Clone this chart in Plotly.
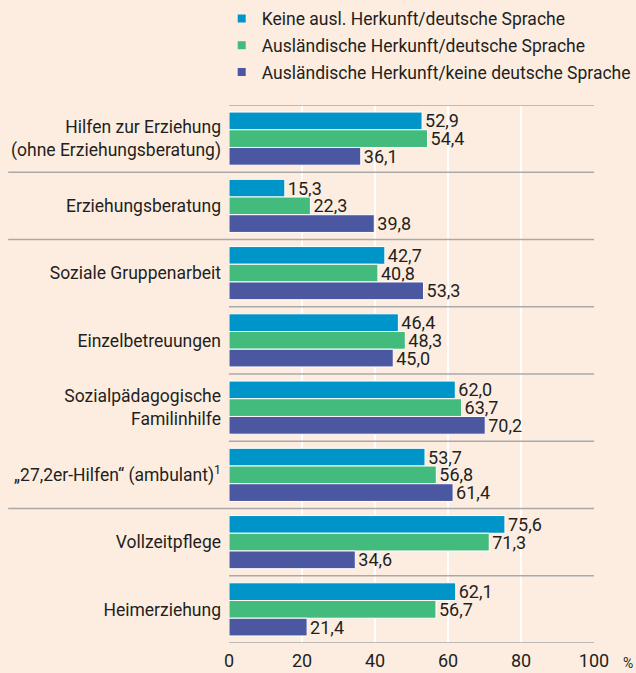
import plotly.graph_objects as go

categories = [
    "Hilfen zur Erziehung<br>(ohne Erziehungsberatung)",
    "Erziehungsberatung",
    "Soziale Gruppenarbeit",
    "Einzelbetreuungen",
    "Sozialpädagogische<br>Familinhilfe",
    "„27,2er-Hilfen“ (ambulant)<sup>1</sup>",
    "Vollzeitpflege",
    "Heimerziehung",
]
series_names = [
    "Keine ausl. Herkunft/deutsche Sprache",
    "Ausländische Herkunft/deutsche Sprache",
    "Ausländische Herkunft/keine deutsche Sprache",
]
keine_ausl = [52.9, 15.3, 42.7, 46.4, 62.0, 53.7, 75.6, 62.1]
ausl_deutsch = [54.4, 22.3, 40.8, 48.3, 63.7, 56.8, 71.3, 56.7]
ausl_keine_deutsch = [36.1, 39.8, 53.3, 45.0, 70.2, 61.4, 34.6, 21.4]
x_ticks = [0, 20, 40, 60, 80, 100]
long_separators = [0.5, 1.5, 5.5]
short_separators = [-0.5, 2.5, 3.5, 4.5, 6.5, 7.5]

colors = ["#0095C8", "#43BB7D", "#4B57A0"]
series = [keine_ausl, ausl_deutsch, ausl_keine_deutsch]
FONT = "Roboto, sans-serif"
TXT = "#231F20"
BG = "#FDEDE0"

fig = go.Figure()
for name, vals, col in zip(series_names, series, colors):
    fig.add_trace(go.Bar(
        y=categories, x=vals, orientation="h", name=name,
        marker=dict(color=col, line=dict(color="white", width=1)),
        text=vals, texttemplate="%{x:.1f}", textposition="outside",
        constraintext="none",
        textfont=dict(family=FONT, size=18, color=TXT),
        cliponaxis=False, showlegend=False,
    ))
for i, (name, col) in enumerate(zip(series_names, colors)):
    fig.add_trace(go.Scatter(
        x=[None], y=[None], mode="markers", name=name, legendgroup=f"g{i}",
        marker=dict(symbol="square", size=8, color=col),
    ))

shapes = []
for s in long_separators:
    shapes.append(dict(type="line", xref="paper", yref="y", x0=-0.605, x1=1, y0=s, y1=s,
                       line=dict(color="#A9A9AA", width=1.5), layer="above"))
for s in short_separators:
    shapes.append(dict(type="line", xref="paper", yref="y", x0=0, x1=1, y0=s, y1=s,
                       line=dict(color="#A9A9AA", width=1.5), layer="above"))

fig.update_layout(
    width=636, height=673,
    margin=dict(l=229, r=42, t=105, b=30, pad=0, autoexpand=False),
    paper_bgcolor=BG, plot_bgcolor=BG,
    barmode="group", bargap=0.21, bargroupgap=0,
    separators=",.",
    font=dict(family=FONT, size=17, color=TXT),
    shapes=shapes,
    legend=dict(xref="paper", yref="container", x=-0.02, y=0.999,
                xanchor="left", yanchor="top",
                bgcolor="rgba(0,0,0,0)", font=dict(size=17.5, color=TXT),
                itemwidth=30, tracegroupgap=1),
    xaxis=dict(range=[0, 100], tickvals=x_ticks, showgrid=True, gridcolor="white",
               gridwidth=2, zeroline=False, showline=False, ticks="", automargin=False,
               ticklabelstandoff=5, tickfont=dict(size=18, color=TXT), fixedrange=True),
    yaxis=dict(range=[7.5, -0.5], showgrid=False, zeroline=False, showline=False,
               ticks="", ticklabelstandoff=7, automargin=False,
               tickfont=dict(size=17.5, color=TXT)),
    annotations=[dict(text="%", xref="paper", yref="paper", x=1.094, y=-0.037,
                      xanchor="center", yanchor="middle", showarrow=False,
                      font=dict(size=14, color=TXT))],
)

fig.write_html("out.html", config={"displayModeBar": False},
               post_script="document.body.style.margin='0';")
